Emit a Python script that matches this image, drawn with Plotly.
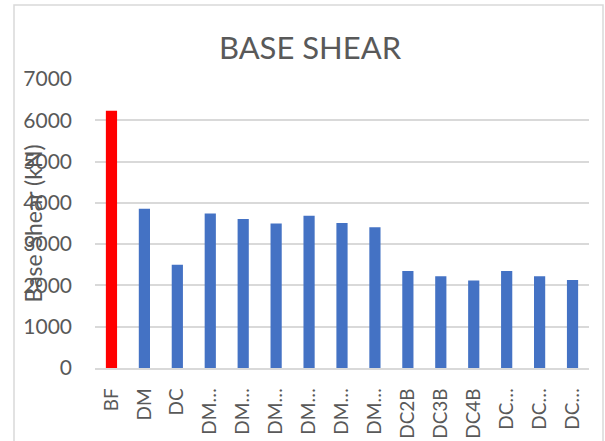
import plotly.graph_objects as go

categories = ["BF", "DM", "DC", "DM…", "DM…", "DM…", "DM…", "DM…", "DM…",
              "DC2B", "DC3B", "DC4B", "DC…", "DC…", "DC…"]
base_shear = [6230, 3860, 2500, 3740, 3610, 3500, 3690, 3510, 3410,
              2350, 2220, 2120, 2350, 2220, 2130]
bar_colors = ["#FF0000"] + ["#4472C4"] * 14
y_ticks = [0, 1000, 2000, 3000, 4000, 5000, 6000, 7000]

W, H = 605, 441
ml, mr, mt, mb = 95, 16, 79, 73
pw, ph = W - ml - mr, H - mt - mb

positions = list(range(len(categories)))

fig = go.Figure(go.Bar(
    x=positions, y=base_shear, marker_color=bar_colors,
    marker_line_width=0, width=0.34,
))

font = "Lato, Open Sans, sans-serif"
fig.update_layout(
    width=W, height=H, autosize=False,
    margin=dict(l=ml, r=mr, t=mt, b=mb, autoexpand=False),
    paper_bgcolor="white", plot_bgcolor="white",
    font=dict(family=font, color="#595959", size=20),
    showlegend=False,
    title=dict(text="BASE SHEAR", x=310 / W, xanchor="center",
               y=1 - 48 / H, yanchor="middle", yref="container",
               font=dict(size=31, color="#595959", family=font)),
    xaxis=dict(range=[-0.5, len(categories) - 0.5], tickmode="array",
               tickvals=positions, ticktext=categories, tickangle=-90,
               showgrid=False, showline=True, linecolor="#d9d9d9",
               linewidth=1.5, ticks="", ticklabelstandoff=11,
               automargin=False,
               tickfont=dict(size=19, color="#595959")),
    yaxis=dict(range=[0, 7000], tickmode="array", tickvals=y_ticks,
               showgrid=True, gridcolor="#d9d9d9", gridwidth=1.5,
               zeroline=False, showline=False, ticks="",
               ticklabelstandoff=22, automargin=False,
               tickfont=dict(size=21, color="#595959")),
    annotations=[dict(text="Base Shear (kN)", textangle=-90,
                      xref="paper", yref="paper", x=0, y=0.5,
                      xanchor="center", yanchor="middle",
                      xshift=-(ml - 32), showarrow=False,
                      font=dict(size=23, color="#595959", family=font))],
    shapes=[dict(type="rect", xref="paper", yref="paper",
                 x0=(14 - ml) / pw, x1=(603 - ml) / pw,
                 y0=-0.4, y1=(H - mb - 5) / ph,
                 line=dict(color="#d9d9d9", width=1.5),
                 fillcolor="rgba(0,0,0,0)", layer="below")],
)

fig.write_html("out.html",
               config={"displayModeBar": False},
               post_script="document.body.style.margin='0';"
                           "document.body.style.overflow='hidden';")
